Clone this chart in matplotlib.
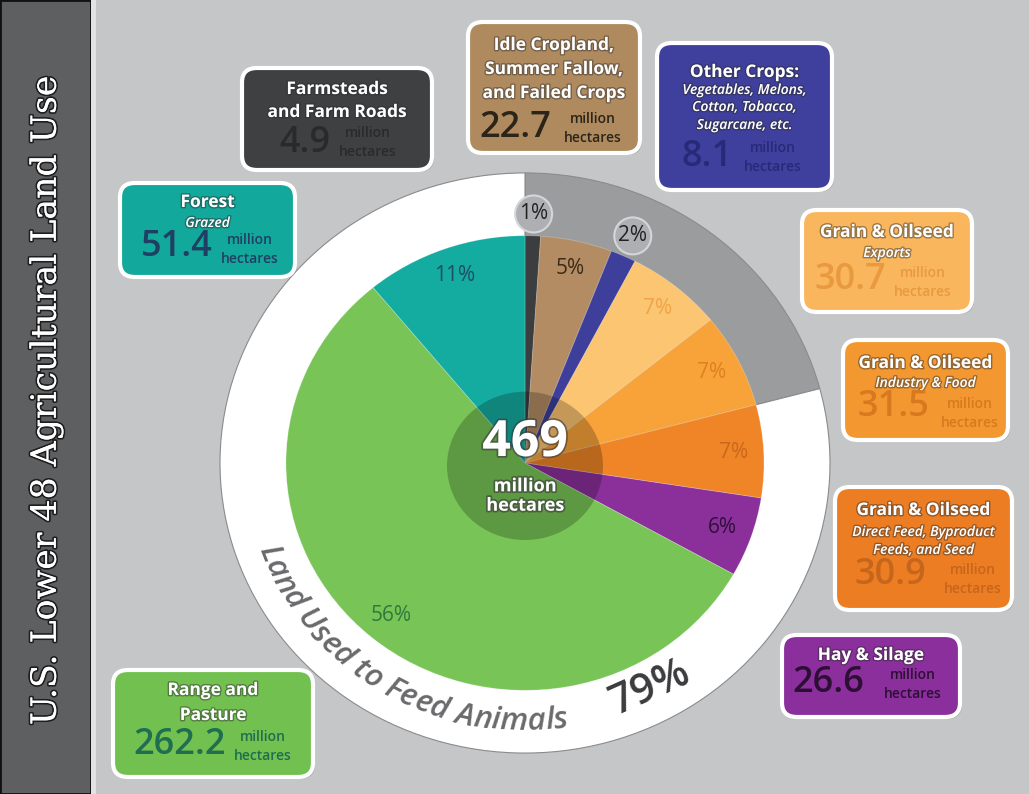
import numpy as np
import matplotlib
matplotlib.use("Agg")
import matplotlib.pyplot as plt
import matplotlib.patheffects as pe
from matplotlib.patches import FancyBboxPatch, Rectangle, Ellipse
from matplotlib.font_manager import FontProperties

W, H = 1029, 794
SY = 0.951  # the whole graphic is slightly squashed vertically

# land use in million hectares, clockwise from 12 o'clock
categories = ["Farmsteads", "Idle", "Other Crops", "Grain Exports", "Grain Industry",
              "Grain Feed", "Hay & Silage", "Range and Pasture", "Forest"]
hectares = [4.9, 22.7, 8.1, 30.7, 31.5, 30.9, 26.6, 262.2, 51.4]
feeds_animals = [False, False, False, False, False, True, True, True, True]
total = 469

slice_colors = ["#3c3d3f", "#b38c63", "#3d3f9b", "#fcc571", "#f8a33a",
                "#ef8527", "#8b2f9b", "#78c457", "#14aba0"]
pct_colors = ["#222222", "#3b2b1b", "#222222", "#f0a447", "#df7f22",
              "#c9681c", "#2e1038", "#2e7a3c", "#1c4e66"]

box_titles = [["Farmsteads", "and Farm Roads"],
              ["Idle Cropland,", "Summer Fallow,", "and Failed Crops"],
              ["Other Crops:"],
              ["Grain & Oilseed"],
              ["Grain & Oilseed"],
              ["Grain & Oilseed"],
              ["Hay & Silage"],
              ["Range and", "Pasture"],
              ["Forest"]]
box_subtitles = [[], [], ["Vegetables, Melons,", "Cotton, Tobacco,", "Sugarcane, etc."],
                 ["Exports"], ["Industry & Food"],
                 ["Direct Feed, Byproduct", "Feeds, and Seed"], [], [], ["Grazed"]]
box_fill = ["#3f4042", "#b08a5f", "#3f409d", "#f9b65c", "#f39830",
            "#ec7d23", "#8a2f9b", "#72c04f", "#12a89b"]
num_colors = ["#2a2a2a", "#2b2418", "#272a78", "#e9993f", "#d8781f",
              "#c6651c", "#2d0f35", "#1f6e4f", "#1f3f63"]

# box layout in pixels: rect (x0, y0, x1, y1), line y's, number centre, unit centre
layout = [
    dict(rect=(242, 68, 432, 170), lines=[89, 112], num=(305, 143), unit=(368, 133)),
    dict(rect=(468, 22, 640, 153), lines=[45, 69, 93], num=(515, 128), unit=(593, 119)),
    dict(rect=(657, 43, 832, 190), lines=[72, 90, 107, 125], num=(707, 157), unit=(773, 148)),
    dict(rect=(802, 210, 972, 312), lines=[232, 253], num=(850, 280), unit=(923, 273)),
    dict(rect=(843, 340, 1008, 440), lines=[363, 383], num=(893, 407), unit=(970, 404)),
    dict(rect=(835, 487, 1012, 610), lines=[510, 532, 550], num=(890, 575), unit=(973, 570)),
    dict(rect=(782, 635, 960, 717), lines=[655], num=(828, 683), unit=(913, 675)),
    dict(rect=(113, 670, 313, 777), lines=[690, 715], num=(180, 745), unit=(263, 737)),
    dict(rect=(120, 183, 295, 277), lines=[202, 223], num=(177, 247), unit=(250, 240)),
]


def Y(y):
    return (H - y) / SY


def tangent_rot(th):
    return np.rad2deg(np.arctan2(SY * np.cos(th), -np.sin(th)))


fig = plt.figure(figsize=(W / 100, H / 100), dpi=100)
fig.patch.set_facecolor("#c4c6c8")
ax = fig.add_axes([0, 0, 1, 1])

cx, cy = 525, Y(463)
r_ring, r_pie = 305, 239

# ring behind the pie: grey for land not used to feed animals, white for feed
feed_sum = sum(v for v, f in zip(hectares, feeds_animals) if f)
other_sum = sum(v for v, f in zip(hectares, feeds_animals) if not f)
ax.pie([other_sum, feed_sum], radius=r_ring, center=(cx, cy), startangle=90,
       counterclock=False, colors=["#9b9c9e", "white"],
       wedgeprops=dict(linewidth=0.8, edgecolor="#8a8b8d"))

wedges, _ = ax.pie(hectares, radius=r_pie, center=(cx, cy), startangle=90,
                   counterclock=False, colors=slice_colors,
                   wedgeprops=dict(linewidth=0.6, edgecolor=(1, 1, 1, 0.25)))

# dark disc in the middle
ax.add_patch(Ellipse((cx, cy - 3), 156, 156, facecolor="black", alpha=0.22, lw=0, zorder=3))
halo = [pe.withStroke(linewidth=2.5, foreground="#3a3a3a", alpha=0.6)]
ax.text(cx, Y(443), f"{total}", ha="center", va="center", color="white",
        fontsize=36, fontweight="bold", family="Open Sans", zorder=4, path_effects=halo)
ax.text(cx, Y(496), "million\nhectares", ha="center", va="center", color="white",
        fontsize=13, fontweight="bold", family="Open Sans", linespacing=1.1,
        zorder=4, path_effects=halo)

# percentage labels
for w, v, c in zip(wedges, hectares, pct_colors):
    pct = round(100 * v / total)
    mid = np.deg2rad((w.theta1 + w.theta2) / 2)
    r = 262 if pct <= 2 else 0.875 * r_pie
    px, py = cx + r * np.cos(mid), cy + r * np.sin(mid)
    if pct <= 2:
        ax.add_patch(Ellipse((px, py), 37, 37 / SY, facecolor="#aeafb2",
                             edgecolor="#d5d6d8", lw=1.5, zorder=4))
    ax.text(px, py, f"{pct}%", ha="center", va="center", color=c,
            fontsize=15, family="Open Sans", zorder=5)

# curved caption along the white ring
caption = "Land Used to Feed Animals"
fp = FontProperties(family="Open Sans", style="italic", weight="semibold", size=22.5)
renderer = fig.canvas.get_renderer()


def text_w(s):
    return renderer.get_text_width_height_descent(s, fp, ismath=False)[0]


bar_w = text_w("|")
r_base = 281
th0 = np.deg2rad(199)
for i, ch in enumerate(caption):
    left = text_w(caption[:i] + "|") - bar_w
    right = text_w(caption[:i + 1] + "|") - bar_w
    th = th0 + (left + right) / 2 / (r_base * 0.975)
    ax.text(cx + r_base * np.cos(th), cy + r_base * np.sin(th), ch,
            fontproperties=fp, color="#6a6a6c", ha="center", va="baseline",
            rotation=tangent_rot(th), rotation_mode="anchor", zorder=5)

ax.text(650, Y(688), f"{round(100 * feed_sum / total)}%", ha="center", va="center",
        rotation=24, fontsize=30, fontweight="semibold", color="#3b3b3d",
        family="Open Sans", zorder=5)

# label boxes
shadow = [pe.withStroke(linewidth=2, foreground="#2a2a2a", alpha=0.45)]
for k in range(len(hectares)):
    lay = layout[k]
    x0, y0, x1, y1 = lay["rect"]
    bw, bh = x1 - x0, (y1 - y0) / SY
    ax.add_patch(FancyBboxPatch((x0 + 2, Y(y1) - 2), bw, bh,
                                boxstyle="round,pad=0,rounding_size=15",
                                facecolor="#8e9092", edgecolor="none", alpha=0.6, zorder=5))
    ax.add_patch(FancyBboxPatch((x0, Y(y1)), bw, bh,
                                boxstyle="round,pad=0,rounding_size=15",
                                facecolor=box_fill[k], edgecolor="white", lw=3, zorder=6))
    xm = (x0 + x1) / 2
    lines = box_titles[k] + box_subtitles[k]
    n_title = len(box_titles[k])
    for j, (txt, ly) in enumerate(zip(lines, lay["lines"])):
        if j < n_title:
            ax.text(xm, Y(ly), txt, ha="center", va="center", color="white",
                    fontsize=12.5, fontweight="bold", family="Open Sans",
                    zorder=7, path_effects=shadow)
        else:
            ax.text(xm, Y(ly), txt, ha="center", va="center", color="white",
                    fontsize=10, fontweight="semibold", style="italic",
                    family="Open Sans", zorder=7, path_effects=shadow)
    nx, ny = lay["num"]
    ax.text(nx, Y(ny), f"{hectares[k]}", ha="center", va="center",
            color=num_colors[k], fontsize=26, fontweight="semibold",
            family="Open Sans", zorder=7)
    ux, uy = lay["unit"]
    ax.text(ux, Y(uy), "million", ha="center", va="center", color=num_colors[k],
            fontsize=10, fontweight="semibold", family="Open Sans", zorder=7)
    ax.text(ux, Y(uy + 19), "hectares", ha="center", va="center", color=num_colors[k],
            fontsize=10, fontweight="semibold", family="Open Sans", zorder=7)

# title strip on the left
ax.add_patch(Rectangle((0, 0), 91, H / SY, facecolor="#5e5f61", edgecolor="#111111",
                       lw=2, zorder=8))
ax.add_patch(Rectangle((91, 0), 5, H / SY, facecolor="#e2e3e4", edgecolor="none", zorder=8))
ax.text(46, Y(400), "U.S. Lower 48 Agricultural Land Use", rotation=90,
        ha="center", va="center", color="white", fontsize=25, family="DejaVu Serif",
        zorder=9, path_effects=[pe.withStroke(linewidth=2.5, foreground="#1e1e1e"),
                                pe.Normal()])

ax.set_xlim(0, W)
ax.set_ylim(0, H / SY)
ax.set_aspect("auto")
ax.axis("off")

fig.savefig("out.png", dpi=100, facecolor=fig.get_facecolor())
